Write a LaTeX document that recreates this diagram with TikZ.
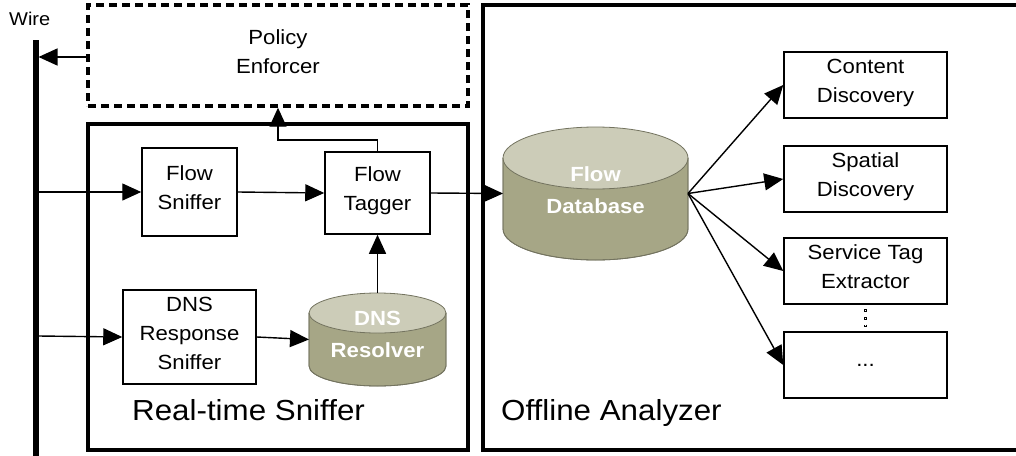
\documentclass[tikz,border=0pt]{standalone}
\usepackage{fontspec}
\setmainfont{Liberation Sans}[FakeStretch=1.08]
\usetikzlibrary{arrows.meta}
\definecolor{cyltop}{RGB}{204,204,184}
\definecolor{cylbody}{RGB}{166,166,134}
\definecolor{cylline}{RGB}{115,115,95}
\begin{document}
\begin{tikzpicture}[x=1pt,y=1pt,
  box/.style={draw, line width=1.5pt, inner sep=0pt, align=center,
    font=\fontsize{20.5}{29}\selectfont, text depth=8pt},
  container/.style={draw, line width=3.5pt, inner sep=0pt},
  arr/.style={line width=1.4pt, -{Triangle[length=19pt,width=17pt]}},
  cyltext/.style={text=white, inner sep=0pt, align=center,
    font=\bfseries\fontsize{20.5}{32}\selectfont},
  cylarea/.style={inner sep=0pt, outer sep=0pt},
  big/.style={font=\fontsize{29}{34}\selectfont, inner sep=0pt, anchor=base west},
  cylfill/.style={fill=cylbody, draw=cylline, line width=0.8pt},
  cyltopfill/.style={fill=cyltop, draw=cylline, line width=0.8pt},
]
\clip (0,0) rectangle (1016,-455);

% wire
\node[font=\fontsize{18.5}{20}\selectfont, inner sep=0pt, anchor=base west] (wirelbl) at (9,-25) {Wire};
\coordinate (wtop) at (35.5,-40);
\coordinate (wbot) at (35.5,-462);
\draw[line width=6pt] (wtop) -- (wbot);

% containers
\node[box, dashed, line width=3.4pt, dash pattern=on 8pt off 5pt,
  minimum width=380, minimum height=101] (policy) at (278,-55.5) {Policy\\Enforcer};
\node[container, minimum width=380, minimum height=326] (rts) at (278,-287) {};
\draw[line width=3.5pt] (1030,-5) -- (483,-5) -- (483,-450) -- (1030,-450);

% real-time sniffer parts
\node[box, minimum width=95, minimum height=88] (fs) at (189.5,-192) {Flow\\Sniffer};
\node[box, minimum width=105, minimum height=82] (ft) at (377.5,-193) {Flow\\Tagger};
\node[box, minimum width=133, minimum height=94] (drs) at (189.5,-337) {DNS\\Response\\Sniffer};

% DNS resolver cylinder
\fill[cylfill] (309,-313) -- (309,-366) arc[start angle=180,end angle=360,x radius=68.5,y radius=20] -- (446,-313) -- cycle;
\fill[cyltopfill] (377.5,-313) ellipse[x radius=68.5, y radius=20];
\draw[cylline, line width=0.8pt] (309,-313) -- (309,-366) arc[start angle=180,end angle=360,x radius=68.5,y radius=20] -- (446,-313);
\node[cylarea, minimum width=137, minimum height=93] (dns) at (377.5,-339.5) {};
\node[cyltext] (dnslbl) at (377.5,-334) {DNS\\Resolver};

% Flow database cylinder
\fill[cylfill] (503,-158) -- (503,-229) arc[start angle=180,end angle=360,x radius=92.5,y radius=31] -- (688,-158) -- cycle;
\fill[cyltopfill] (595.5,-158) ellipse[x radius=92.5, y radius=31];
\draw[cylline, line width=0.8pt] (503,-158) -- (503,-229) arc[start angle=180,end angle=360,x radius=92.5,y radius=31] -- (688,-158);
\node[cylarea, minimum width=185, minimum height=133] (fdb) at (595.5,-193.5) {};
\node[cyltext] (fdblbl) at (595.5,-190) {Flow\\Database};

% analyzers
\node[box, minimum width=163, minimum height=66] (cd) at (865.5,-85) {Content\\Discovery};
\node[box, minimum width=163, minimum height=66] (sd) at (865.5,-179) {Spatial\\Discovery};
\node[box, minimum width=163, minimum height=66] (st) at (865.5,-271) {Service Tag\\Extractor};
\node[box, text depth=0pt, minimum width=163, minimum height=66] (more) at (865.5,-365) {...};

% labels
\node[big] (rtslbl) at (132,-420) {Real-time Sniffer};
\node[big] (oalbl) at (501,-420) {Offline Analyzer};

% connectors
\coordinate (win1) at (38.5,-192);
\coordinate (win2) at (38.5,-336);
\coordinate (wout) at (38.5,-57);
\coordinate (bend) at (278,-140);
\draw[arr] (policy.west |- wout) -- (wout);
\draw[arr] (win1) -- (fs.west);
\draw[arr] (win2) -- (drs.west);
\draw[arr] (fs.east) -- (ft.west);
\draw[arr] (ft.north) |- (bend) -- (policy.south);
\draw[arr] (drs.east) -- (dns.west);
\draw[arr] (dns.north) -- (ft.south);
\draw[arr] (ft.east) -- (fdb.west);
\draw[arr] (fdb.east) -- (cd.west);
\draw[arr] (fdb.east) -- (sd.west);
\draw[arr] (fdb.east) -- (st.west);
\draw[arr] (fdb.east) -- (more.west);
\draw[line width=2.6pt, dash pattern=on 2.6pt off 5pt, dash phase=2.9pt] (st.south) -- (more.north);
\draw[white, line width=1pt, dash pattern=on 1pt off 6.6pt, dash phase=2.1pt] (st.south) -- (more.north);
\end{tikzpicture}
\end{document}
